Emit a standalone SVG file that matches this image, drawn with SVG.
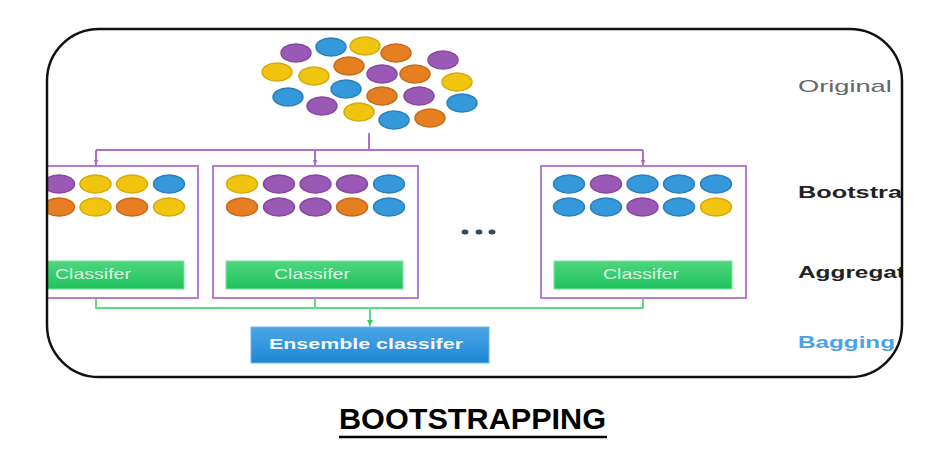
<svg xmlns="http://www.w3.org/2000/svg" width="948" height="459" viewBox="0 0 948 459">
<style>
.p{fill:#9b59b6;stroke:#86479f;stroke-width:1.5}
.b{fill:#3498db;stroke:#2a80bb;stroke-width:1.5}
.y{fill:#f1c40f;stroke:#d5ab0c;stroke-width:1.5}
.o{fill:#e67e22;stroke:#c96a18;stroke-width:1.5}
.box{fill:#ffffff;stroke:#b57bd5;stroke-width:2}
.bar{fill:url(#gg);stroke:#7be39f;stroke-width:1}
.ct{font-family:"Liberation Sans",Arial,sans-serif;font-size:14px;fill:#d8f5e0;text-anchor:middle}
.pl{fill:none;stroke:#ac6fcc;stroke-width:2}
.gl{fill:none;stroke:#5ddc87;stroke-width:2}
.side{font-family:"Liberation Sans",Arial,sans-serif;font-size:17px;font-weight:bold}
</style>
<defs>
<linearGradient id="gg" x1="0" y1="0" x2="0" y2="1"><stop offset="0" stop-color="#4fd67d"/><stop offset="1" stop-color="#20c25e"/></linearGradient>
<linearGradient id="bg" x1="0" y1="0" x2="0" y2="1"><stop offset="0" stop-color="#4ca6e6"/><stop offset="1" stop-color="#1f86d6"/></linearGradient>
<clipPath id="frame"><rect x="47" y="29" width="855" height="348" rx="52" ry="52"/></clipPath>
<marker id="ap" viewBox="0 0 10 10" refX="10" refY="5" markerWidth="5" markerHeight="5" orient="auto" markerUnits="userSpaceOnUse"><path d="M0,0L10,5L0,10z" fill="#ac6fcc"/></marker>
<marker id="ag" viewBox="0 0 10 10" refX="10" refY="5" markerWidth="6" markerHeight="6" orient="auto" markerUnits="userSpaceOnUse"><path d="M0,0L10,5L0,10z" fill="#2fcf66"/></marker>
</defs>
<rect width="948" height="459" fill="#ffffff"/>
<g clip-path="url(#frame)">
<g id="connectors">
<path class="pl" d="M369,133V150"/>
<path class="pl" d="M96,150H643"/>
<path class="pl" d="M96,150V165" marker-end="url(#ap)"/>
<path class="pl" d="M315,150V165" marker-end="url(#ap)"/>
<path class="pl" d="M643,150V165" marker-end="url(#ap)"/>
<path class="gl" d="M96,289V308H643V289"/>
<path class="gl" d="M315,289V308"/>
<path class="gl" d="M370,308V326" stroke="#2fcf66" marker-end="url(#ag)"/>
</g>
<g id="original-data">
<ellipse class="p" cx="296" cy="53" rx="15" ry="9"/>
<ellipse class="b" cx="331" cy="47" rx="15" ry="9"/>
<ellipse class="y" cx="365" cy="46" rx="15" ry="9"/>
<ellipse class="o" cx="396" cy="53" rx="15" ry="9"/>
<ellipse class="p" cx="443" cy="60" rx="15" ry="9"/>
<ellipse class="y" cx="277" cy="72" rx="15" ry="9"/>
<ellipse class="y" cx="314" cy="76" rx="15" ry="9"/>
<ellipse class="o" cx="349" cy="66" rx="15" ry="9"/>
<ellipse class="p" cx="382" cy="74" rx="15" ry="9"/>
<ellipse class="o" cx="415" cy="74" rx="15" ry="9"/>
<ellipse class="y" cx="457" cy="82" rx="15" ry="9"/>
<ellipse class="b" cx="288" cy="97" rx="15" ry="9"/>
<ellipse class="b" cx="346" cy="89" rx="15" ry="9"/>
<ellipse class="p" cx="322" cy="106" rx="15" ry="9"/>
<ellipse class="o" cx="382" cy="96" rx="15" ry="9"/>
<ellipse class="p" cx="419" cy="96" rx="15" ry="9"/>
<ellipse class="b" cx="462" cy="103" rx="15" ry="9"/>
<ellipse class="y" cx="359" cy="112" rx="15" ry="9"/>
<ellipse class="b" cx="394" cy="120" rx="15" ry="9"/>
<ellipse class="o" cx="430" cy="118" rx="15" ry="9"/>
</g>
<g id="sample-1">
<rect class="box" x="-7" y="166" width="205" height="132"/>
<ellipse class="p" cx="59" cy="184" rx="15.5" ry="9"/>
<ellipse class="y" cx="95.5" cy="184" rx="15.5" ry="9"/>
<ellipse class="y" cx="132" cy="184" rx="15.5" ry="9"/>
<ellipse class="b" cx="169" cy="184" rx="15.5" ry="9"/>
<ellipse class="o" cx="59" cy="207" rx="15.5" ry="9"/>
<ellipse class="y" cx="95.5" cy="207" rx="15.5" ry="9"/>
<ellipse class="o" cx="132" cy="207" rx="15.5" ry="9"/>
<ellipse class="y" cx="169" cy="207" rx="15.5" ry="9"/>
<rect class="bar" x="7" y="261" width="177" height="28"/>
<text class="ct" x="93" y="279" textLength="76" lengthAdjust="spacingAndGlyphs">Classifer</text>
</g>
<g id="sample-2">
<rect class="box" x="213" y="166" width="205" height="132"/>
<ellipse class="y" cx="242" cy="184" rx="15.5" ry="9"/>
<ellipse class="p" cx="279" cy="184" rx="15.5" ry="9"/>
<ellipse class="p" cx="315.5" cy="184" rx="15.5" ry="9"/>
<ellipse class="p" cx="352" cy="184" rx="15.5" ry="9"/>
<ellipse class="b" cx="389" cy="184" rx="15.5" ry="9"/>
<ellipse class="o" cx="242" cy="207" rx="15.5" ry="9"/>
<ellipse class="p" cx="279" cy="207" rx="15.5" ry="9"/>
<ellipse class="p" cx="315.5" cy="207" rx="15.5" ry="9"/>
<ellipse class="o" cx="352" cy="207" rx="15.5" ry="9"/>
<ellipse class="b" cx="389" cy="207" rx="15.5" ry="9"/>
<rect class="bar" x="226" y="261" width="177" height="28"/>
<text class="ct" x="312" y="279" textLength="76" lengthAdjust="spacingAndGlyphs">Classifer</text>
</g>
<g id="ellipsis">
<ellipse cx="465" cy="232" rx="3.5" ry="2.5" fill="#34495e"/>
<ellipse cx="479" cy="232" rx="3.5" ry="2.5" fill="#34495e"/>
<ellipse cx="492" cy="232" rx="3.5" ry="2.5" fill="#34495e"/>
</g>
<g id="sample-n">
<rect class="box" x="541" y="166" width="205" height="132"/>
<ellipse class="b" cx="569" cy="184" rx="15.5" ry="9"/>
<ellipse class="p" cx="606" cy="184" rx="15.5" ry="9"/>
<ellipse class="b" cx="642.5" cy="184" rx="15.5" ry="9"/>
<ellipse class="b" cx="679" cy="184" rx="15.5" ry="9"/>
<ellipse class="b" cx="716" cy="184" rx="15.5" ry="9"/>
<ellipse class="b" cx="569" cy="207" rx="15.5" ry="9"/>
<ellipse class="b" cx="606" cy="207" rx="15.5" ry="9"/>
<ellipse class="p" cx="642.5" cy="207" rx="15.5" ry="9"/>
<ellipse class="b" cx="679" cy="207" rx="15.5" ry="9"/>
<ellipse class="y" cx="716" cy="207" rx="15.5" ry="9"/>
<rect class="bar" x="554" y="261" width="178" height="28"/>
<text class="ct" x="641" y="279" textLength="76" lengthAdjust="spacingAndGlyphs">Classifer</text>
</g>
<g id="ensemble">
<rect x="251" y="327" width="238" height="36" fill="url(#bg)" stroke="#6bb6ea" stroke-width="1"/>
<text x="366" y="349" font-family="'Liberation Sans',Arial,sans-serif" font-size="14" font-weight="bold" fill="#f2f8fd" text-anchor="middle" textLength="194" lengthAdjust="spacingAndGlyphs">Ensemble classifer</text>
</g>
<g id="labels">
<text x="798" y="92" font-family="'Liberation Sans',Arial,sans-serif" font-size="17" fill="#666666" textLength="121" lengthAdjust="spacingAndGlyphs">Original D</text>
<text class="side" x="798" y="198" fill="#222222" textLength="104" lengthAdjust="spacingAndGlyphs">Bootstra</text>
<text class="side" x="798" y="278" fill="#222222" textLength="107" lengthAdjust="spacingAndGlyphs">Aggregat</text>
<text class="side" x="798" y="348" fill="#4aa3e6" textLength="97" lengthAdjust="spacingAndGlyphs">Bagging</text>
</g>
</g>
<rect x="47" y="29" width="855" height="348" rx="52" ry="52" fill="none" stroke="#111111" stroke-width="2.5"/>
<g id="title">
<text x="339" y="429" font-family="'Liberation Sans',Arial,sans-serif" font-size="29" font-weight="bold" fill="#000000" textLength="267" lengthAdjust="spacingAndGlyphs">BOOTSTRAPPING</text>
<line x1="339" y1="437" x2="607" y2="437" stroke="#000000" stroke-width="2.5"/>
</g>
</svg>
